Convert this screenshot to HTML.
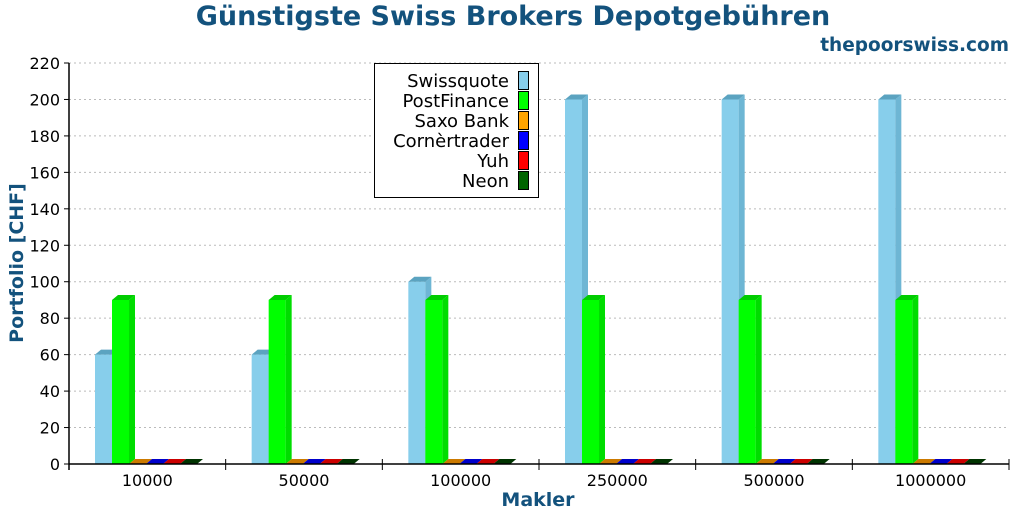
<!DOCTYPE html>
<html><head><meta charset="utf-8"><style>
body{margin:0;background:#fff;}
svg text{font-family:"DejaVu Sans","Liberation Sans",sans-serif;}
</style></head><body>
<svg id="c" width="1024" height="512" xmlns="http://www.w3.org/2000/svg">
<text x="513" y="25" text-anchor="middle" font-size="27" font-weight="bold" fill="#13527d">Günstigste Swiss Brokers Depotgebühren</text>
<text x="1009" y="51" text-anchor="end" font-size="18.5" font-weight="bold" fill="#13527d">thepoorswiss.com</text>
<text x="538" y="506" text-anchor="middle" font-size="19" font-weight="bold" fill="#13527d">Makler</text>
<text transform="translate(23,263) rotate(-90)" text-anchor="middle" font-size="19" font-weight="bold" fill="#13527d">Portfolio  [CHF]</text>
<g id="grid"></g><g id="bars"></g><g id="axes"></g><g id="legend"></g>
</svg>
<script>
const categories=["10000","50000","100000","250000","500000","1000000"];
const seriesNames=["Swissquote","PostFinance","Saxo Bank","Cornèrtrader","Yuh","Neon"];
const swissquote=[60,60,100,200,200,200];
const postfinance=[90,90,90,90,90,90];
const saxo=[0,0,0,0,0,0];
const corner=[0,0,0,0,0,0];
const yuh=[0,0,0,0,0,0];
const neon=[0,0,0,0,0,0];
const yTicks=[0,20,40,60,80,100,120,140,160,180,200,220];
const series=[swissquote,postfinance,saxo,corner,yuh,neon];
const colors=[["#87ceeb","#5ba3c0","#6eb6d4"],["#00ff00","#00cc00","#00dd00"],["#ffa500","#cc7a00","#d98c00"],["#0000ff","#0000cc","#0000dd"],["#ff0000","#cc0000","#dd0000"],["#006400","#003300","#004a00"]];
const NS="http://www.w3.org/2000/svg";
const X0=69,X1=1009,Y0=464,Y1=63,YMAX=220;
const gw=(X1-X0)/categories.length,bw=17,dx=6,dy=5;
const y=v=>Y0-(v/YMAX)*(Y0-Y1);
const gx=i=>X0+i*gw;
function mk(t,a,p){const e=document.createElementNS(NS,t);for(const k in a)e.setAttribute(k,a[k]);p.appendChild(e);return e;}
const grid=document.getElementById('grid'),bars=document.getElementById('bars'),axes=document.getElementById('axes'),leg=document.getElementById('legend');
yTicks.forEach(t=>{
 const l=mk('line',{x1:X0,x2:X1,y1:y(t),y2:y(t),stroke:'#bbb','stroke-dasharray':'2,3'},grid);
 
 
 const tk=mk('line',{x1:X0-5,x2:X0,y1:y(t),y2:y(t),stroke:'#000'},axes);
 
 
 const tx=mk('text',{x:X0-9,y:y(t)+6,'text-anchor':'end','font-size':'16',fill:'#000'},axes);
 tx.textContent=t;
 
 
});
categories.forEach((c,i)=>{
 series.forEach((s,j)=>{
  const x=gx(i)+26+j*bw,yt=y(s[i]),col=colors[j];
  const g=mk('g',{},bars);
  
  
  if(Y0-yt>0.5){
   mk('rect',{x:x,y:yt,width:bw,height:Y0-yt,fill:col[0]},g);
   mk('polygon',{points:`${x+bw},${yt} ${x+bw+dx},${yt-dy} ${x+bw+dx},${Y0-dy} ${x+bw},${Y0}`,fill:col[2]},g);
  }
  mk('polygon',{points:`${x},${yt} ${x+dx},${yt-dy} ${x+bw+dx},${yt-dy} ${x+bw},${yt}`,fill:col[1]},g);
 });
 const tx=mk('text',{x:gx(i)+gw/2,y:486,'text-anchor':'middle','font-size':'16',fill:'#000'},axes);
 tx.textContent=c;
 
 
});
for(let i=0;i<=categories.length;i++){
 const tk=mk('line',{x1:gx(i),x2:gx(i),y1:Y0-5,y2:Y0+6,stroke:'#000'},axes);
 
 
}
const ya=mk('line',{x1:X0,x2:X0,y1:Y1,y2:Y0+6,stroke:'#000','stroke-width':1.5},axes);


const xa=mk('line',{x1:X0,x2:X1,y1:Y0,y2:Y0,stroke:'#000','stroke-width':1.5},axes);


const box=mk('rect',{x:374.5,y:63.5,width:164,height:134,fill:'#fff',stroke:'#000'},leg);


seriesNames.forEach((n,j)=>{
 const g=mk('g',{},leg);
 
 
 mk('rect',{x:518.5,y:71.5+j*20,width:10,height:18,fill:colors[j][0],stroke:'#000'},g);
 const t=mk('text',{x:509,y:87+j*20,'text-anchor':'end','font-size':'18',fill:'#000'},g);
 t.textContent=n;
});
</script>
</body></html>
